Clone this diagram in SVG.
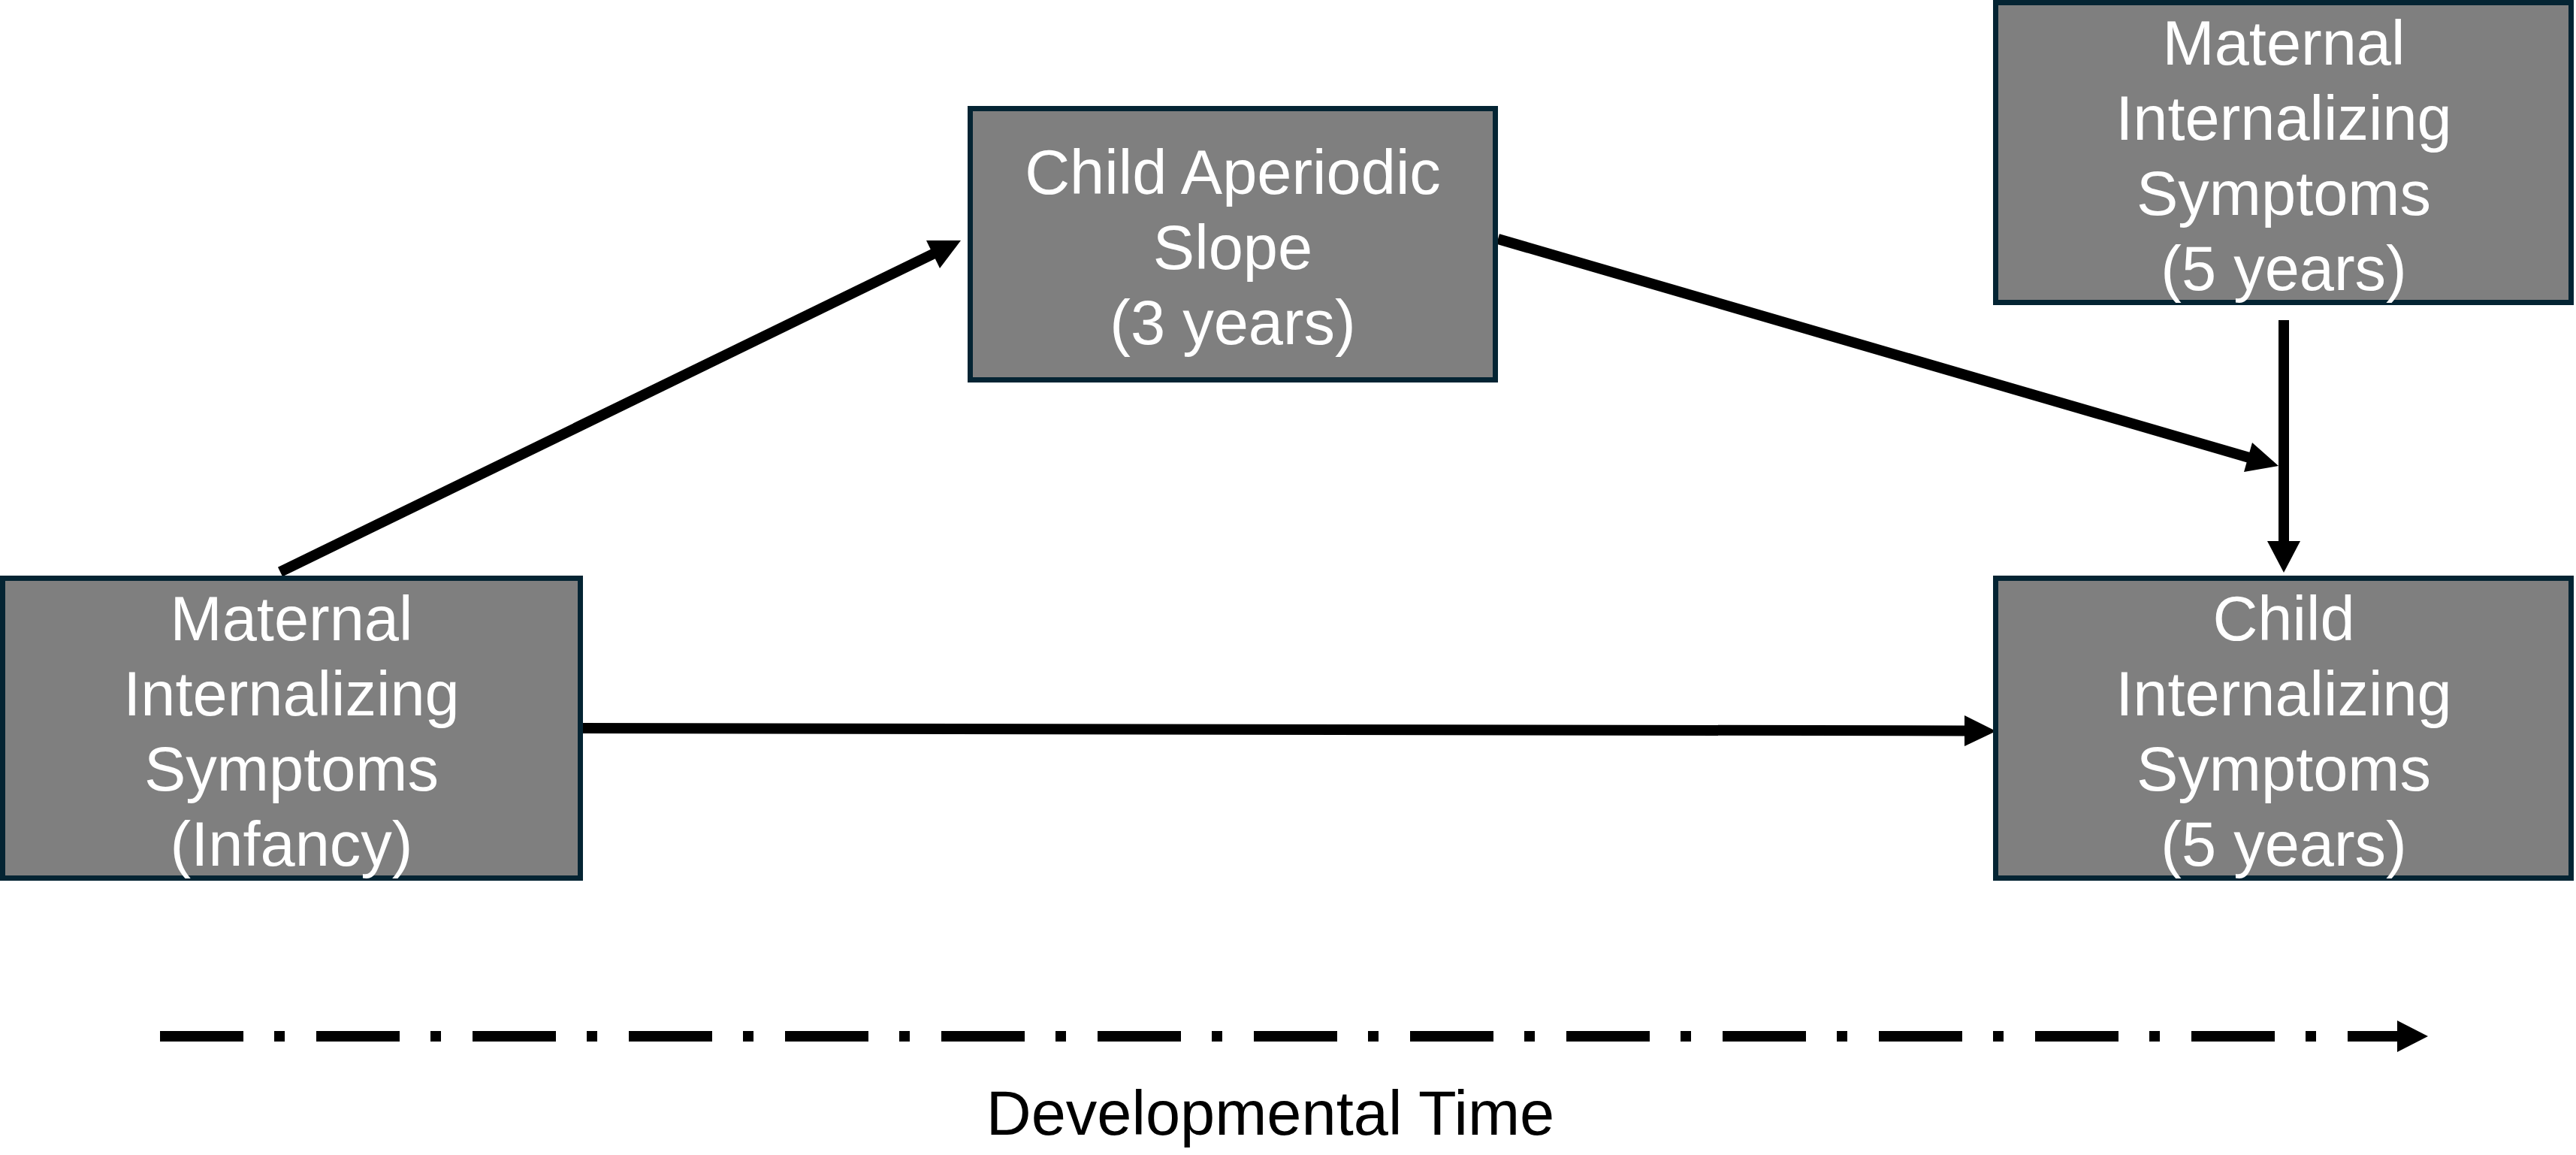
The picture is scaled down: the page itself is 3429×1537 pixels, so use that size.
<svg xmlns="http://www.w3.org/2000/svg" width="3429" height="1537" viewBox="0 0 3429 1537">
<style>
.box{fill:#7f7f7f;stroke:#042433;stroke-width:7}
.lbl{font-family:"Liberation Sans",Arial,sans-serif;font-size:83px;fill:#ffffff;text-anchor:middle}
.cap{font-family:"Liberation Sans",Arial,sans-serif;font-size:83px;fill:#000000;text-anchor:middle}
.edge{stroke:#000000;stroke-width:14;fill:none;stroke-linecap:butt}
.head{fill:#000000}
</style>
<rect width="3429" height="1537" fill="#ffffff"/>
<g id="connectors">
  <line class="edge" x1="373" y1="761" x2="1244" y2="337"/>
  <polygon class="head" points="1279,320 1233,320 1251,357"/>
  <line class="edge" x1="1994" y1="318" x2="2994" y2="609"/>
  <polygon class="head" points="3033,620 2998,589 2987,628"/>
  <line class="edge" x1="3040" y1="426" x2="3040" y2="722"/>
  <polygon class="head" points="3018,720 3062,720 3040,762"/>
  <line class="edge" x1="772" y1="969" x2="2617" y2="972.5"/>
  <polygon class="head" points="2615,952 2615,993 2657,973"/>
  <line class="edge" x1="213" y1="1379" x2="3195" y2="1379" stroke-dasharray="111 41 14 42"/>
  <polygon class="head" points="3191,1358 3232,1379 3191,1400"/>
</g>
<g id="node-maternal-infancy">
  <rect class="box" x="3.5" y="769.5" width="769" height="399"/>
  <text class="lbl" x="388" y="852">Maternal</text>
  <text class="lbl" x="388" y="952">Internalizing</text>
  <text class="lbl" x="388" y="1052">Symptoms</text>
  <text class="lbl" x="388" y="1152">(Infancy)</text>
</g>
<g id="node-aperiodic">
  <rect class="box" x="1291.5" y="144.5" width="699" height="361"/>
  <text class="lbl" x="1641" y="258">Child Aperiodic</text>
  <text class="lbl" x="1641" y="358">Slope</text>
  <text class="lbl" x="1641" y="458">(3 years)</text>
</g>
<g id="node-maternal-5">
  <rect class="box" x="2656.5" y="3.5" width="766" height="399"/>
  <text class="lbl" x="3040" y="86">Maternal</text>
  <text class="lbl" x="3040" y="186">Internalizing</text>
  <text class="lbl" x="3040" y="286">Symptoms</text>
  <text class="lbl" x="3040" y="386">(5 years)</text>
</g>
<g id="node-child-5">
  <rect class="box" x="2656.5" y="769.5" width="766" height="399"/>
  <text class="lbl" x="3040" y="852">Child</text>
  <text class="lbl" x="3040" y="952">Internalizing</text>
  <text class="lbl" x="3040" y="1052">Symptoms</text>
  <text class="lbl" x="3040" y="1152">(5 years)</text>
</g>
<g id="time-label">
  <text class="cap" x="1691" y="1510">Developmental Time</text>
</g>
</svg>
